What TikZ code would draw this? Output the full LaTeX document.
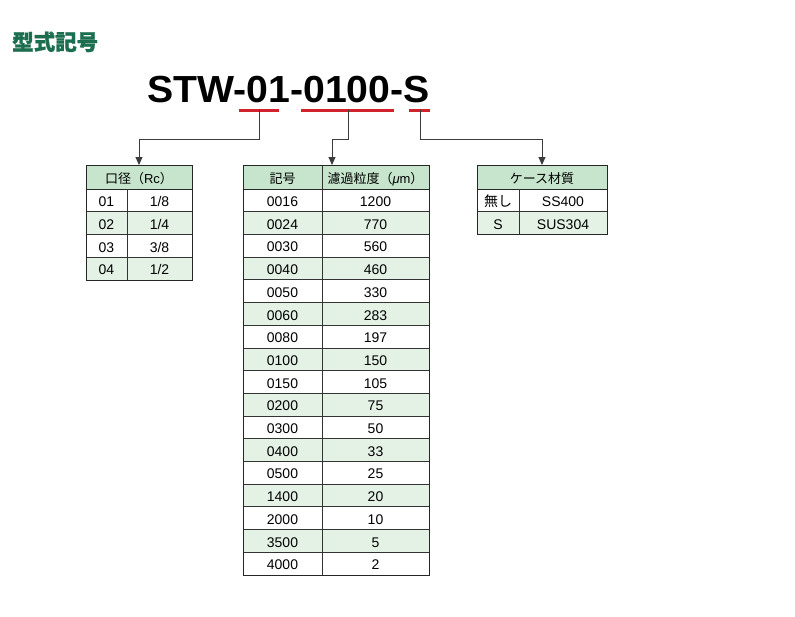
\documentclass[tikz,border=0pt]{standalone}
\usepackage{fontspec}
\setmainfont{Liberation Sans}
\newfontfamily\cjk{Noto Sans CJK JP}
\newfontfamily\cjkheavy{Noto Sans CJK JP}[BoldFeatures={FakeBold=1.2}]
\usetikzlibrary{arrows.meta}
\definecolor{titlegreen}{RGB}{28,110,80}
\definecolor{headgreen}{RGB}{198,229,204}
\definecolor{rowgreen}{RGB}{228,242,230}
\definecolor{ulred}{RGB}{210,35,45}
\definecolor{linegray}{RGB}{60,60,60}
\begin{document}
\begin{tikzpicture}[x=1pt,y=-1pt,
  cell/.style={font=\fontsize{14}{15}\selectfont, inner sep=0pt, anchor=base},
  hcell/.style={font=\fontsize{13}{14}\selectfont, inner sep=0pt, anchor=base},
  hbox/.style={draw=black!85, line width=0.9pt, fill=headgreen, inner sep=0pt, outer sep=0pt, anchor=north west, minimum height=24pt},
  tabline/.style={draw=black!80, line width=0.8pt},
  tabframe/.style={draw=black!85, line width=1pt},
  conn/.style={draw=linegray, line width=0.9pt, -{Triangle[length=8pt,width=7pt]}},
  ul/.style={draw=ulred, line width=3pt}]
\useasboundingbox[fill=white] (0,0) rectangle (795,616);

% title
\node[anchor=base west, inner sep=0pt, text=titlegreen, font=\cjkheavy\bfseries\fontsize{21.5}{22}\selectfont] (title) at (12,50) {型式記号};

% model code
\node[anchor=base west, inner sep=0pt, font=\bfseries\fontsize{37.7}{40}\selectfont] (model) at (147,102) {\scalebox{1.04}[1]{STW-01-0100-S}};

% underlines
\coordinate (u1) at (259,110);
\coordinate (u2) at (348,110);
\coordinate (u3) at (420,110);
\draw[ul] (239,110) -- (279,110);
\draw[ul] (301,110) -- (394,110);
\draw[ul] (409,110) -- (430,110);

% ---------- left table ----------
\node[hbox, minimum width=106pt] (lh) at (86,165) {};
\foreach \a/\b [count=\i] in {01/1\slash 8,02/1\slash 4,03/3\slash 8,04/1\slash 2}{
  \ifodd\i\else
    \fill[rowgreen] (86,{189+(\i-1)*22.75}) rectangle (192,{189+\i*22.75});
  \fi
  \node[cell] (l-\i-a) at (106.5,{189+(\i-1)*22.75+17.5}) {\a};
  \node[cell] (l-\i-b) at (159.5,{189+(\i-1)*22.75+17.5}) {\b};
}
\foreach \k in {1,2,3}{\draw[tabline] (86,{189+\k*22.75}) -- (192,{189+\k*22.75});}
\draw[tabline] (127,189) -- (127,280);
\draw[tabframe] (86,165) rectangle (192,280);
\node[hcell] (lht) at (139,183.5) {{\cjk 口径（}Rc{\cjk ）}};

% ---------- middle table ----------
\node[hbox, minimum width=186pt] (mh) at (243,165) {};
\foreach \a/\b [count=\i] in {0016/1200,0024/770,0030/560,0040/460,0050/330,0060/283,0080/197,0100/150,0150/105,0200/75,0300/50,0400/33,0500/25,1400/20,2000/10,3500/5,4000/2}{
  \ifodd\i\else
    \fill[rowgreen] (243,{189+(\i-1)*22.706}) rectangle (429,{189+\i*22.706});
  \fi
  \node[cell] (m-\i-a) at (282.5,{189+(\i-1)*22.706+17.5}) {\a};
  \node[cell] (m-\i-b) at (375.5,{189+(\i-1)*22.706+17.5}) {\b};
}
\foreach \k in {1,...,16}{\draw[tabline] (243,{189+\k*22.706}) -- (429,{189+\k*22.706});}
\draw[tabline] (322,165) -- (322,575);
\draw[tabframe] (243,165) rectangle (429,575);
\node[hcell] (mht1) at (282.5,183.5) {\cjk 記号};
\node[hcell] (mht2) at (375.5,183.5) {{\cjk 濾過粒度（}\textit{μ}m{\cjk ）}};

% ---------- right table ----------
\node[hbox, minimum width=130pt] (rh) at (477,165) {};
\fill[rowgreen] (477,{189+22.75}) rectangle (607,{189+2*22.75});
\node[cell] (r-1-a) at (498,{189+17.5}) {\cjk 無し};
\node[cell] (r-1-b) at (563,{189+17.5}) {SS400};
\node[cell] (r-2-a) at (498,{189+22.75+17.5}) {S};
\node[cell] (r-2-b) at (563,{189+22.75+17.5}) {SUS304};
\draw[tabline] (477,{189+22.75}) -- (607,{189+22.75});
\draw[tabline] (519,189) -- (519,{189+2*22.75});
\draw[tabframe] (477,165) rectangle (607,{189+2*22.75});
\node[hcell] (rht) at (542,183.5) {\cjk ケース材質};

% ---------- connectors ----------
\draw[conn] (u1) -- (259,139) -| (lh.north);
\draw[conn] (u2) -- (348,139) -| ([xshift=-4pt]mh.north);
\draw[conn] (u3) -- (420,139) -| (rh.north);
\end{tikzpicture}
\end{document}
